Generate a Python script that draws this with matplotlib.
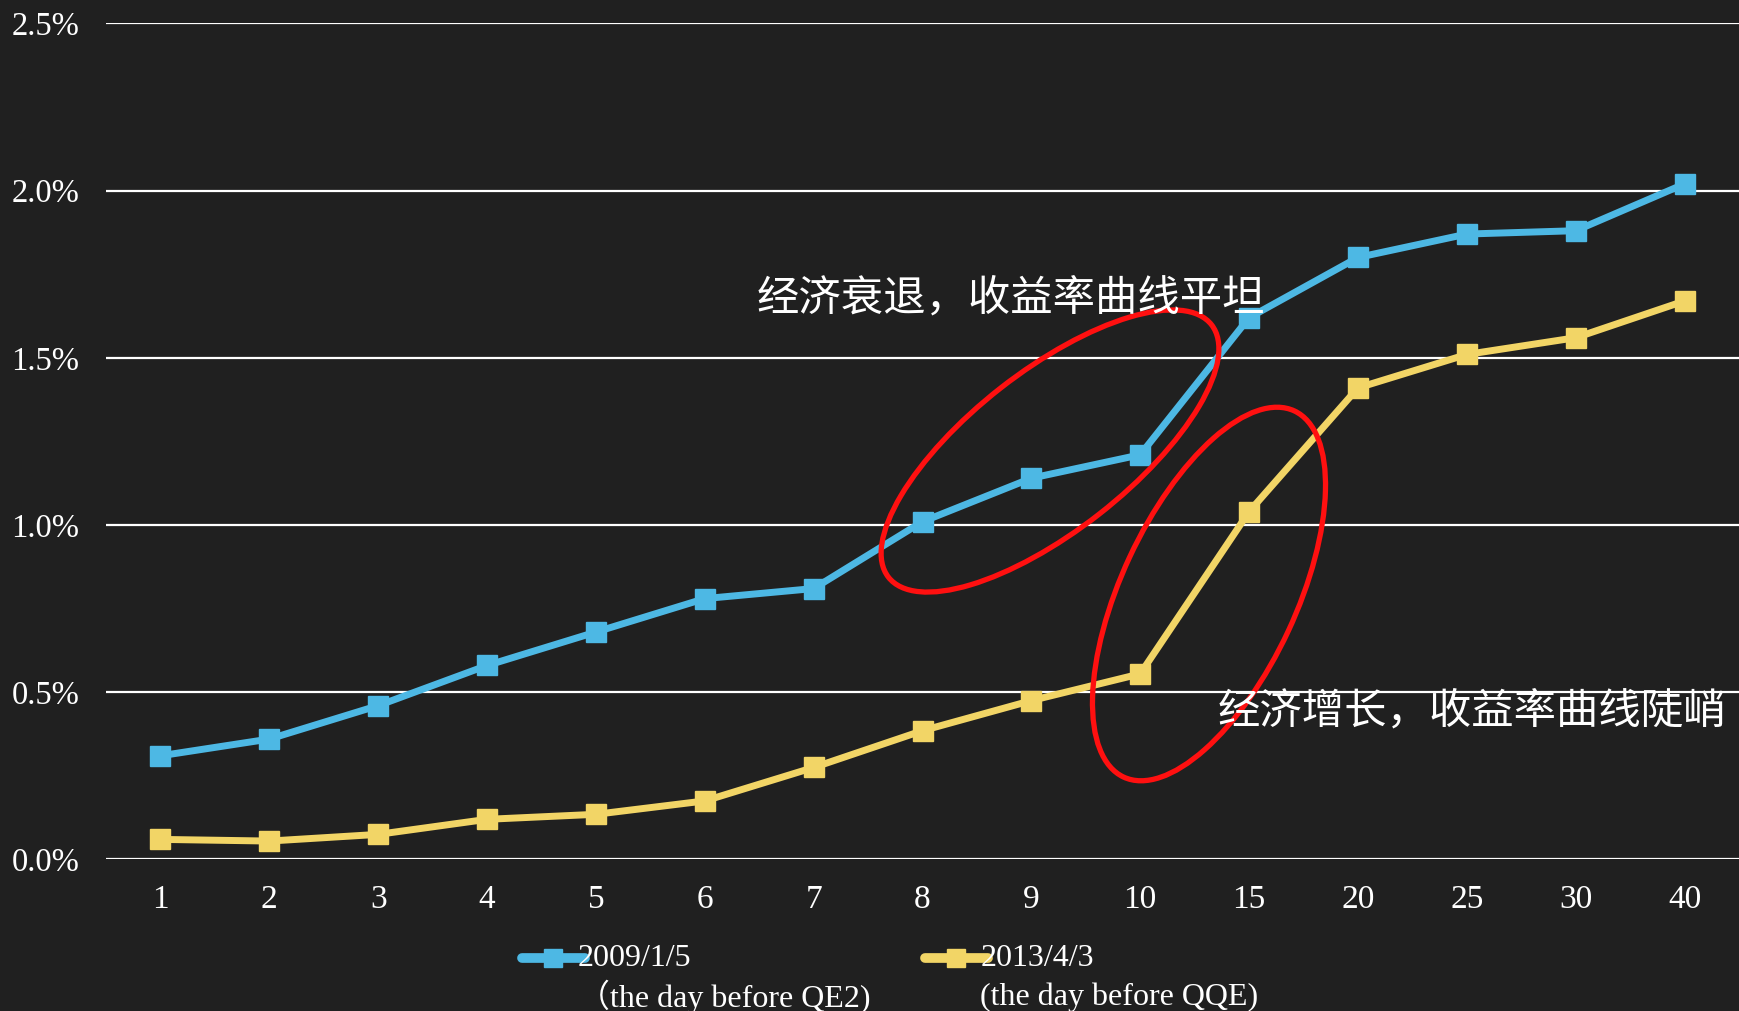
import numpy as np
import matplotlib.pyplot as plt
from matplotlib.patches import Ellipse
from matplotlib.lines import Line2D

# data (yield, %)
maturities = ['1', '2', '3', '4', '5', '6', '7', '8', '9', '10', '15', '20', '25', '30', '40']
yield_2009 = [0.31, 0.36, 0.46, 0.58, 0.68, 0.78, 0.81, 1.01, 1.14, 1.21, 1.62, 1.80, 1.87, 1.88, 2.02]
yield_2013 = [0.06, 0.055, 0.075, 0.12, 0.135, 0.175, 0.275, 0.385, 0.475, 0.555, 1.04, 1.41, 1.51, 1.56, 1.67]
yticks = [0.0, 0.5, 1.0, 1.5, 2.0, 2.5]
label_2009 = ['2009/1/5', '（the day before QE2)']
label_2013 = ['2013/4/3', '(the day before QQE)']
note_flat = '经济衰退，收益率曲线平坦'
note_steep = '经济增长，收益率曲线陡峭'

blue = '#4db8e4'
yellow = '#f2d566'
bg = '#202020'
serif = ['Liberation Serif', 'Noto Sans CJK SC']
cjk = ['Noto Sans CJK SC', 'DejaVu Sans']

W, H = 1739, 1011
fig = plt.figure(figsize=(W / 100, H / 100), dpi=100, facecolor=bg)
ax = fig.add_axes([106 / W, 0.1499, 1 - 106 / W, 0.827])
ax.set_facecolor(bg)

x = np.arange(len(maturities))
ax.plot(x, yield_2009, color=blue, lw=5, marker='s', ms=15, solid_joinstyle='round', zorder=4)
ax.plot(x, yield_2013, color=yellow, lw=5, marker='s', ms=15, solid_joinstyle='round', zorder=4)

ax.set_xlim(-0.5, len(maturities) - 0.5)
ax.set_ylim(0, 2.5)
ax.set_yticks(yticks)
ax.set_yticklabels(['%.1f%%' % v for v in yticks], family=serif, fontsize=23.5, color='white')
ax.set_xticks(x)
ax.set_xticklabels(maturities, family=serif, fontsize=24, color='white')
ax.tick_params(axis='y', length=0, pad=19)
ax.tick_params(axis='x', length=0, pad=18)
ax.yaxis.grid(True, color='white', lw=1.6)
ax.set_axisbelow(True)
for s in ax.spines.values():
    s.set_visible(False)

# overlay in pixel coordinates for ellipses, notes and the legend
ov = fig.add_axes([0, 0, 1, 1])
ov.set_xlim(0, W)
ov.set_ylim(H, 0)
ov.axis('off')
ov.patch.set_alpha(0)

ov.add_patch(Ellipse((1050, 451), 410, 160, angle=-38, fill=False, ec='#ff1010', lw=3.8, zorder=5))
ov.add_patch(Ellipse((1209, 594), 404, 175, angle=-65, fill=False, ec='#ff1010', lw=3.8, zorder=5))

ov.text(757, 299, note_flat, family=cjk, fontsize=30.5, color='white', va='center', ha='left', zorder=6)
ov.text(1218, 712, note_steep, family=cjk, fontsize=30.5, color='white', va='center', ha='left', zorder=6)

# legend
for x0, col, lab, dx in [(522, blue, label_2009, 56), (925, yellow, label_2013, 55)]:
    ov.add_line(Line2D([x0, x0 + 63], [958, 958], color=col, lw=7, solid_capstyle='round'))
    ov.add_line(Line2D([x0 + 31], [958], color=col, marker='s', ms=13))
    ov.text(x0 + 56, 959, lab[0], family=serif, fontsize=23, color='white', va='center', ha='left')
    ov.text(x0 + dx, 997, lab[1], family=serif, fontsize=23,
            color='white', va='center', ha='left')

fig.savefig('out.png', dpi=100, facecolor=bg)
